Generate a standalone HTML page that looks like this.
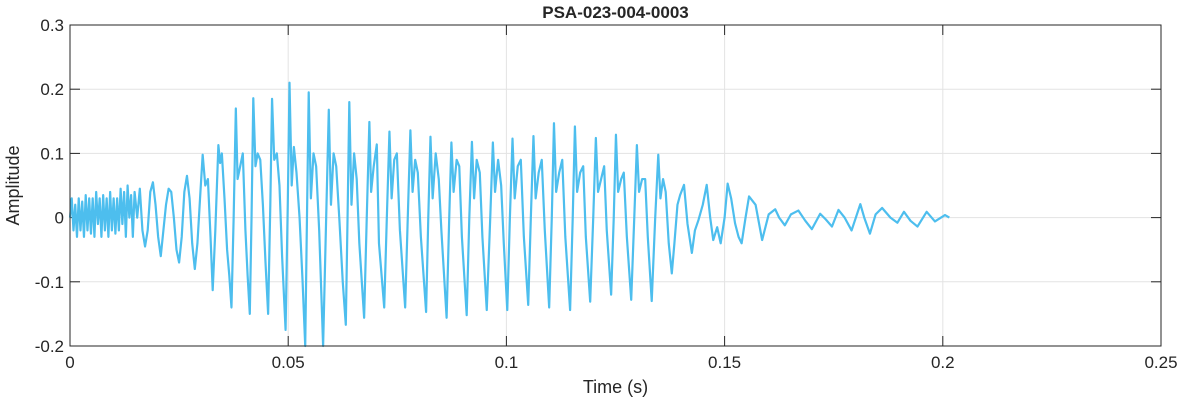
<!DOCTYPE html>
<html><head><meta charset="utf-8"><style>
html,body{margin:0;padding:0;background:#fff;}
svg text{font-family:"Liberation Sans",Arial,sans-serif;fill:#262626;}
</style></head><body>
<svg id="chart" width="1182" height="404" xmlns="http://www.w3.org/2000/svg"></svg>
<script>
const xTickValues=[0,0.05,0.1,0.15,0.2,0.25];
const xTickLabels=["0","0.05","0.1","0.15","0.2","0.25"];
const yTickValues=[-0.2,-0.1,0,0.1,0.2,0.3];
const yTickLabels=["-0.2","-0.1","0","0.1","0.2","0.3"];
const timesMs=[0,0.4,0.8,1.2,1.6,2,2.4,2.8,3.2,3.6,4,4.4,4.8,5.2,5.6,6,6.4,6.8,7.2,7.6,8,8.4,8.8,9.2,9.6,10,10.4,10.8,11.2,11.6,12,12.4,12.8,13.2,13.6,14,14.4,14.8,15.4,16,16.6,17.2,17.8,18.4,19,19.6,20.2,20.8,21.4,22,22.6,23.2,23.8,24.4,25,25.6,26.2,26.8,27.4,28,28.6,29.2,29.8,
30.4,31.0,31.6,32.2,32.7,33.3,34.0,34.4,34.8,35.4,36.0,36.5,37.0,37.5,38.0,38.4,39.0,39.6,40.2,40.7,41.2,41.6,42.0,42.5,43.0,43.6,44.2,44.8,45.4,45.9,46.3,46.8,47.4,48.0,48.6,49.4,49.9,50.3,50.8,51.3,51.9,52.6,53.3,53.9,54.3,54.7,55.2,55.8,56.4,57.1,57.6,58.0,58.7,59.3,59.8,60.4,61.0,61.7,62.5,63.2,63.6,64.0,64.5,65.1,65.7,66.3,67.4,68.0,68.6,69.0,69.6,70.3,70.8,72.0,72.6,73.2,73.7,74.3,74.9,75.6,76.8,77.4,78.0,78.5,79.1,79.7,80.4,81.6,82.1,82.6,83.1,83.8,84.5,85.1,86.3,86.9,87.4,87.9,88.6,89.2,89.8,90.9,91.5,92.1,92.6,93.2,93.9,94.5,95.5,96.3,96.9,97.4,98.1,98.8,99.4,100.2,100.8,101.4,101.9,102.6,103.3,104.0,105.0,105.6,106.2,106.7,107.4,108.1,108.8,109.8,110.4,110.9,111.4,112.1,112.8,113.5,114.6,115.2,115.7,116.2,116.9,117.6,118.2,119.2,119.9,120.5,121.0,121.7,122.4,123.0,124.0,124.6,125.1,125.6,126.3,126.9,127.6,128.6,129.3,129.9,130.4,131.1,131.8,132.4,133.3,134.1,134.8,135.3,135.9,136.5,137.2,137.9,138.5,139.2,139.8,140.7,141.5,142.5,143.2,144.0,145.0,145.9,146.7,147.4,148.3,149.1,150.0,150.7,151.5,152.4,153.2,153.9,154.8,155.6,157.1,158.6,160.1,161.6,162.5,163.8,165.2,166.9,168.5,170.0,171.9,173.2,174.6,176.1,177.5,179.1,181.1,182.0,183.3,184.6,186.1,188,189.6,191.1,192.6,194.2,196.3,198.2,200.5,201.5];
const amplitudes=[0,0.03,-0.02,0.02,-0.03,0.03,-0.02,0.025,-0.03,0.035,-0.02,0.03,-0.025,0.03,-0.03,0.04,-0.01,0.03,-0.03,0.035,-0.02,0.03,-0.03,0.04,-0.02,0.03,-0.025,0.03,-0.02,0.045,-0.01,0.04,-0.03,0.05,0,0.035,-0.03,0.04,0,0.045,-0.02,-0.045,-0.02,0.04,0.055,0.02,-0.03,-0.06,-0.02,0.02,0.045,0.04,0,-0.05,-0.07,-0.03,0.04,0.065,0.03,-0.04,-0.08,-0.04,0.03,
0.098,0.05,0.06,-0.03,-0.113,-0.02,0.113,0.085,0.10,0.03,-0.05,-0.09,-0.14,0.0,0.17,0.06,0.08,0.1,-0.02,-0.09,-0.15,0.0,0.186,0.08,0.1,0.09,0.02,-0.07,-0.15,0.02,0.185,0.09,0.1,0.05,-0.06,-0.175,0.02,0.21,0.05,0.11,0.07,0.0,-0.1,-0.2,0.0,0.195,0.03,0.1,0.08,-0.02,-0.12,-0.2,0.0,0.168,0.02,0.1,0.08,0.0,-0.1,-0.167,0.0,0.18,0.02,0.1,0.06,-0.04,-0.156,0.0,0.149,0.04,0.08,0.114,-0.04,-0.14,0.0,0.134,0.03,0.09,0.1,-0.02,-0.14,0.0,0.136,0.04,0.09,0.07,-0.03,-0.147,0.0,0.126,0.03,0.1,0.06,-0.02,-0.156,0.0,0.117,0.04,0.09,0.08,-0.03,-0.152,0.0,0.118,0.03,0.09,0.07,-0.03,-0.144,0.0,0.117,0.04,0.09,0.05,-0.04,-0.144,0.0,0.123,0.03,0.08,0.09,-0.03,-0.136,0.0,0.127,0.03,0.07,0.09,-0.02,-0.14,0.0,0.147,0.04,0.07,0.09,-0.03,-0.144,0.0,0.142,0.04,0.07,0.08,-0.03,-0.131,0.0,0.124,0.04,0.06,0.08,-0.02,-0.12,0.0,0.129,0.04,0.06,0.07,-0.03,-0.128,0.0,0.113,0.04,0.06,0.06,-0.03,-0.13,0.0,0.098,0.03,0.06,0.04,-0.04,-0.087,-0.04,0.02,0.035,0.051,-0.01,-0.055,-0.02,-0.004,0.02,0.051,0.0,-0.035,-0.015,-0.04,0.0,0.053,0.03,-0.009,-0.03,-0.04,0.0,0.033,0.02,-0.035,0.005,0.013,0.0,-0.012,0.005,0.011,-0.005,-0.018,0.006,-0.003,-0.014,0.012,0.0,-0.02,0.021,0.0,-0.025,0.005,0.015,0.0,-0.008,0.009,-0.005,-0.014,0.009,-0.006,0.004,0.0];

const L=70,R=1161,T=25,B=346;
const xMin=0,xMax=0.25,yMin=-0.2,yMax=0.3;
function xs(v){return L+(v-xMin)/(xMax-xMin)*(R-L);}
function ys(v){return B-(v-yMin)/(yMax-yMin)*(B-T);}
const svg=document.getElementById('chart');
const NS='http://www.w3.org/2000/svg';
function mk(tag,attrs){const e=document.createElementNS(NS,tag);for(const k in attrs)e.setAttribute(k,attrs[k]);svg.appendChild(e);return e;}

const bg=mk('rect',{x:L,y:T,width:R-L,height:B-T,fill:'#fff'});



xTickValues.forEach((v,i)=>{
  const g=mk('line',{x1:xs(v),x2:xs(v),y1:T,y2:B,stroke:'#e3e3e3','stroke-width':1});
  
  
  const t=mk('line',{x1:xs(v),x2:xs(v),y1:B,y2:B-10,stroke:'#262626','stroke-width':1});
  
  
  const t2=mk('line',{x1:xs(v),x2:xs(v),y1:T,y2:T+10,stroke:'#262626','stroke-width':1});
  
  
  const lb=mk('text',{x:xs(v),y:B+22,'text-anchor':'middle','font-size':17});
  lb.textContent=xTickLabels[i];
  
  
});
yTickValues.forEach((v,i)=>{
  const g=mk('line',{x1:L,x2:R,y1:ys(v),y2:ys(v),stroke:'#e3e3e3','stroke-width':1});
  
  
  const t=mk('line',{x1:L,x2:L+10,y1:ys(v),y2:ys(v),stroke:'#262626','stroke-width':1});
  
  
  const t2=mk('line',{x1:R,x2:R-10,y1:ys(v),y2:ys(v),stroke:'#262626','stroke-width':1});
  
  
  const lb=mk('text',{x:L-6,y:ys(v)+6,'text-anchor':'end','font-size':17});
  lb.textContent=yTickLabels[i];
  
  
});

let d='';
timesMs.forEach((t,i)=>{d+=(i?'L':'M')+xs(t/1000).toFixed(2)+' '+ys(amplitudes[i]).toFixed(2);});
const path=mk('path',{d:d,fill:'none',stroke:'#4DBEEE','stroke-width':2.2,'stroke-linejoin':'round'});



const box=mk('rect',{x:L,y:T,width:R-L,height:B-T,fill:'none',stroke:'#262626','stroke-width':1});



const title=mk('text',{x:(L+R)/2,y:18,'text-anchor':'middle','font-size':17,'font-weight':'bold'});
title.textContent='PSA-023-004-0003';



const xl=mk('text',{x:(L+R)/2,y:393,'text-anchor':'middle','font-size':18});
xl.textContent='Time (s)';



const yl=mk('text',{x:0,y:0,'text-anchor':'middle','font-size':18,transform:'translate(19,'+((T+B)/2)+') rotate(-90)'});
yl.textContent='Amplitude';


</script>
</body></html>
